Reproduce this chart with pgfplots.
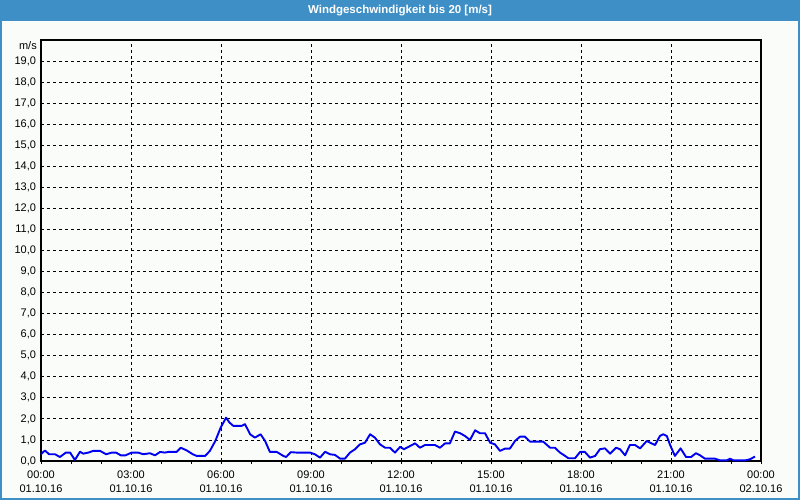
\documentclass[border=0pt]{standalone}
\usepackage{pgfplots}
\pgfplotsset{compat=1.18}
\usepackage{fontspec}
\setmainfont{Liberation Sans}
\definecolor{titleblue}{RGB}{61,143,198}
\definecolor{bgc}{RGB}{250,252,250}
\definecolor{lineblue}{RGB}{0,0,240}
\begin{document}
\begin{tikzpicture}
\fill[bgc] (0bp,0bp) rectangle (800bp,500bp);
\fill[titleblue] (0bp,479bp) rectangle (800bp,500bp);
\draw[titleblue,line width=2bp] (1bp,1bp) rectangle (799bp,499bp);
\useasboundingbox (0bp,0bp) rectangle (800bp,500bp);
\node[text=white,font=\fontsize{11.5bp}{13bp}\selectfont\bfseries] at (400bp,489.5bp) {Windgeschwindigkeit bis 20 [m/s]};
\begin{axis}[
  at={(41bp,39bp)}, anchor=south west,
  scale only axis, width=720bp, height=421bp,
  xmin=0, xmax=24, ymin=0, ymax=20,
  axis line style={black,line width=1.4bp},
  xtick={0,3,...,24},
  minor xtick={1,2,4,5,7,8,10,11,13,14,16,17,19,20,22,23},
  ytick={0,1,...,19},
  xticklabels={{00:00\\01.10.16},{03:00\\01.10.16},{06:00\\01.10.16},{09:00\\01.10.16},{12:00\\01.10.16},{15:00\\01.10.16},{18:00\\01.10.16},{21:00\\01.10.16},{00:00\\02.10.16}},
  xticklabel style={align=center,font=\fontsize{11bp}{14bp}\selectfont,yshift=-3bp},
  yticklabel style={font=\fontsize{11bp}{13bp}\selectfont,xshift=1.5bp},
  /pgf/number format/fixed, /pgf/number format/fixed zerofill, /pgf/number format/precision=1, /pgf/number format/use comma, /pgf/number format/assume math mode=true,
  tick align=outside, xtick pos=bottom, ytick pos=left,
  major tick length=3bp, minor tick length=3bp,
  ytick style={draw=none},
  xtick style={black,line width=0.8bp},
  minor x tick style={black,line width=0.8bp},
  grid=major,
  major grid style={black,line width=0.8bp,dash pattern=on 3bp off 3bp},
  clip=false,
]
\addplot[lineblue,line width=1.9bp,line join=round] coordinates {
(0,0.32)(0.13,0.5)(0.27,0.32)(0.47,0.32)(0.63,0.19)(0.83,0.4)(0.97,0.4)(1.13,0.05)(1.3,0.44)(1.41,0.35)(1.58,0.4)(1.74,0.48)(1.97,0.48)(2.17,0.32)(2.36,0.4)(2.5,0.4)(2.66,0.27)(2.82,0.27)(3.02,0.4)(3.24,0.4)(3.41,0.32)(3.63,0.37)(3.8,0.27)(3.97,0.43)(4.13,0.4)(4.24,0.43)(4.52,0.43)(4.66,0.63)(4.86,0.5)(5.06,0.32)(5.19,0.24)(5.47,0.24)(5.63,0.48)(5.81,0.95)(5.99,1.59)(6.17,2.06)(6.28,1.83)(6.41,1.67)(6.69,1.67)(6.8,1.75)(6.97,1.27)(7.13,1.11)(7.32,1.27)(7.47,0.95)(7.63,0.43)(7.86,0.43)(8.08,0.24)(8.17,0.19)(8.33,0.42)(8.52,0.4)(8.97,0.4)(9.13,0.32)(9.3,0.16)(9.47,0.44)(9.63,0.32)(9.8,0.29)(9.97,0.11)(10.13,0.11)(10.3,0.4)(10.47,0.56)(10.63,0.79)(10.8,0.87)(10.97,1.27)(11.13,1.11)(11.3,0.79)(11.47,0.63)(11.63,0.63)(11.8,0.4)(11.97,0.67)(12.1,0.56)(12.3,0.71)(12.47,0.84)(12.63,0.63)(12.8,0.76)(13.13,0.76)(13.3,0.63)(13.47,0.84)(13.63,0.84)(13.8,1.4)(13.97,1.32)(14.13,1.19)(14.3,1.0)(14.47,1.46)(14.63,1.32)(14.8,1.32)(14.97,0.87)(15.13,0.79)(15.3,0.48)(15.47,0.59)(15.63,0.59)(15.8,0.95)(15.97,1.16)(16.13,1.16)(16.3,0.92)(16.74,0.92)(16.97,0.63)(17.13,0.63)(17.3,0.4)(17.47,0.24)(17.58,0.13)(17.8,0.13)(17.97,0.43)(18.13,0.43)(18.3,0.16)(18.47,0.24)(18.63,0.56)(18.8,0.6)(18.97,0.35)(19.17,0.63)(19.3,0.56)(19.47,0.27)(19.63,0.76)(19.8,0.76)(19.97,0.6)(20.19,0.95)(20.3,0.87)(20.47,0.76)(20.63,1.19)(20.74,1.27)(20.86,1.19)(20.97,0.76)(21.13,0.24)(21.32,0.6)(21.5,0.19)(21.67,0.19)(21.83,0.37)(21.97,0.27)(22.13,0.11)(22.47,0.11)(22.63,0.03)(22.86,0.03)(22.97,0.11)(23.08,0.03)(23.47,0.03)(23.63,0.08)(23.8,0.21)
};
\node[anchor=east,font=\fontsize{11bp}{13bp}\selectfont,inner sep=0pt] at ([xshift=-4bp,yshift=-6bp]rel axis cs:0,1) {m/s};
\end{axis}
\end{tikzpicture}
\end{document}
